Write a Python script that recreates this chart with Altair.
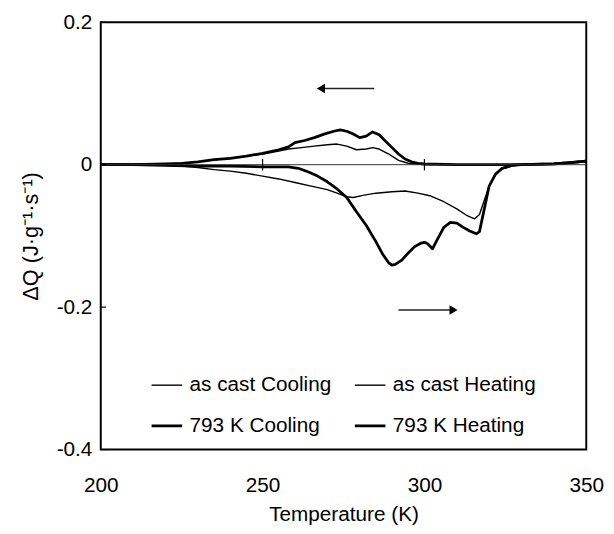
import altair as alt
import pandas as pd

# ---- data ----
ac_cool_T = [200, 210, 220, 225, 230, 235, 240, 245, 250, 255, 258, 262, 266, 270, 273, 276, 279, 282, 284, 286, 289, 292, 295, 298, 300, 310, 320, 330, 340, 345, 350]
ac_cool_v = [0, 0, 0.001, 0.002, 0.004, 0.007, 0.009, 0.012, 0.015, 0.019, 0.022, 0.024, 0.026, 0.028, 0.029, 0.026, 0.021, 0.022, 0.024, 0.022, 0.015, 0.006, 0.002, 0.001, 0, 0, 0, 0, 0.001, 0.003, 0.005]

k_cool_T = [200, 210, 220, 225, 230, 235, 240, 245, 250, 255, 258, 260, 263, 266, 269, 272, 274, 276, 278, 280, 282, 284, 286, 288, 290, 292, 294, 296, 298, 300, 310, 320, 330, 340, 345, 350]
k_cool_v = [0, 0, 0.001, 0.002, 0.004, 0.007, 0.009, 0.012, 0.016, 0.021, 0.025, 0.031, 0.034, 0.038, 0.043, 0.047, 0.049, 0.047, 0.043, 0.038, 0.040, 0.046, 0.042, 0.033, 0.024, 0.015, 0.008, 0.004, 0.002, 0.001, 0, 0, 0, 0.001, 0.003, 0.005]

ac_heat_T = [200, 210, 220, 225, 230, 235, 240, 245, 250, 255, 260, 265, 270, 273, 276, 278, 281, 285, 290, 294, 298, 302, 306, 310, 313, 315.5, 317, 318.5, 320, 322, 324, 327, 330, 340, 345, 350]
ac_heat_v = [0, 0, -0.001, -0.002, -0.004, -0.007, -0.009, -0.012, -0.016, -0.020, -0.025, -0.030, -0.035, -0.040, -0.045, -0.046, -0.043, -0.040, -0.038, -0.037, -0.040, -0.044, -0.052, -0.062, -0.071, -0.076, -0.070, -0.050, -0.030, -0.014, -0.006, -0.002, 0, 0.001, 0.003, 0.005]

k_heat_T = [200, 210, 220, 230, 240, 250, 258, 261, 264, 267, 270, 273, 276, 279, 282, 285, 287, 289, 290, 291, 293, 295, 297, 299, 300, 301, 302.5, 304, 306, 308, 310, 312, 314, 316, 317, 318.5, 320, 322, 324, 327, 330, 340, 345, 350]
k_heat_v = [0, 0, -0.001, -0.002, -0.002, -0.003, -0.003, -0.005, -0.010, -0.016, -0.024, -0.034, -0.046, -0.066, -0.085, -0.108, -0.125, -0.138, -0.141, -0.140, -0.134, -0.124, -0.115, -0.110, -0.109, -0.111, -0.118, -0.105, -0.088, -0.081, -0.082, -0.088, -0.093, -0.097, -0.094, -0.062, -0.030, -0.013, -0.005, -0.001, 0, 0.001, 0.003, 0.005]

# legend order (grid fills column by column)
series_names = ["as cast Cooling", "793 K Cooling", "as cast Heating", "793 K Heating"]
series_widths = [1.4, 2.8, 1.4, 2.8]

x_ticks = [200, 250, 300, 350]
y_ticks = [-0.4, -0.2, 0, 0.2]
zero_ticks_x = [250, 300]

# arrows: [x_tail, x_head, y]
arrow_cool = [284.5, 268, 0.107]
arrow_heat = [292, 309, -0.204]

FONT = "Liberation Sans"

rows = []
for name, T, V in [("as cast Cooling", ac_cool_T, ac_cool_v),
                   ("793 K Cooling", k_cool_T, k_cool_v),
                   ("as cast Heating", ac_heat_T, ac_heat_v),
                   ("793 K Heating", k_heat_T, k_heat_v)]:
    for i, (t, v) in enumerate(zip(T, V)):
        rows.append({"T": t, "v": v, "series": name, "i": i})
df = pd.DataFrame(rows)

xscale = alt.Scale(domain=[200, 350], nice=False, zero=False)
yscale = alt.Scale(domain=[-0.4, 0.2], nice=False)

xaxis = alt.Axis(values=x_ticks, ticks=False, domain=False, grid=False, labelFlush=False,
                 labelFontSize=21, labelPadding=26, labelFont=FONT,
                 title="Temperature (K)", titleFontSize=21, titleFont=FONT,
                 titleFontWeight="normal", titlePadding=8, labelColor="black",
                 titleColor="black")
yaxis = alt.Axis(values=y_ticks, ticks=False, domain=False, grid=False, labelFlush=False,
                 labelExpr="datum.value == 0 ? '0' : (datum.value < 0 ? '-' + format(-datum.value, '.1f') : format(datum.value, '.1f'))",
                 labelFontSize=21, labelPadding=9, labelFont=FONT,
                 title="ΔQ (J·g⁻¹·s⁻¹)", titleFontSize=22, titleFont=FONT,
                 titleFontWeight="normal", titlePadding=14, labelColor="black",
                 titleColor="black")


def X(f):
    return alt.X(f, scale=xscale, axis=xaxis)


def Y(f):
    return alt.Y(f, scale=yscale, axis=yaxis)


leg = alt.Legend(orient="none", legendX=50, legendY=351, columns=2, direction="vertical",
                 title=None, symbolType="stroke", symbolSize=961,
                 symbolStrokeColor="black",
                 labelFontSize=21, labelFont=FONT, labelColor="black",
                 columnPadding=17, rowPadding=14, labelOffset=6,
                 padding=0, symbolOffset=0)

lines = alt.Chart(df).mark_line(strokeJoin="round").encode(
    x=X("T:Q"), y=Y("v:Q"), order="i:Q", detail="series:N",
    color=alt.Color("series:N", scale=alt.Scale(domain=series_names, range=["black"] * 4), legend=leg),
    strokeWidth=alt.StrokeWidth("series:N", scale=alt.Scale(type="ordinal", domain=series_names, range=series_widths), legend=leg),
)

# zero reference line
zero_df = pd.DataFrame({"x1": [200], "x2": [350], "y": [0]})
zero_line = alt.Chart(zero_df).mark_rule(color="#333", strokeWidth=1).encode(
    x=X("x1:Q"), x2="x2:Q", y=Y("y:Q"))

ztick_df = pd.DataFrame({"x": zero_ticks_x, "y1": [-0.008] * len(zero_ticks_x), "y2": [0.008] * len(zero_ticks_x)})
zticks = alt.Chart(ztick_df).mark_rule(color="black", strokeWidth=1.2).encode(
    x=X("x:Q"), y=Y("y1:Q"), y2="y2:Q")

ytick_df = pd.DataFrame({"y": y_ticks, "x1": [200] * len(y_ticks), "x2": [201.6] * len(y_ticks)})
yticks = alt.Chart(ytick_df).mark_rule(color="black", strokeWidth=1.2).encode(
    x=X("x1:Q"), x2="x2:Q", y=Y("y:Q"))

arr_df = pd.DataFrame({"xt": [arrow_cool[0], arrow_heat[0]], "xh": [arrow_cool[1], arrow_heat[1]],
                       "y": [arrow_cool[2], arrow_heat[2]],
                       "shape": ["triangle-left", "triangle-right"]})
arr_lines = alt.Chart(arr_df).mark_rule(color="#222", strokeWidth=1.6).encode(
    x=X("xt:Q"), x2="xh:Q", y=Y("y:Q"))
arr_heads = alt.Chart(arr_df).mark_point(filled=True, color="black", size=90, opacity=1).encode(
    x=X("xh:Q"), y=Y("y:Q"), shape=alt.Shape("shape:N", scale=None))

chart = alt.layer(lines, zero_line, zticks, yticks, arr_lines, arr_heads).properties(
    width=492, height=433,
    autosize=alt.AutoSizeParams(type="none"),
    padding={"left": 94, "top": 11, "right": 20, "bottom": 74},
    background="white",
).configure_view(stroke="black", strokeWidth=2)

chart.save("out.html", embed_options={"renderer": "svg", "actions": False})
